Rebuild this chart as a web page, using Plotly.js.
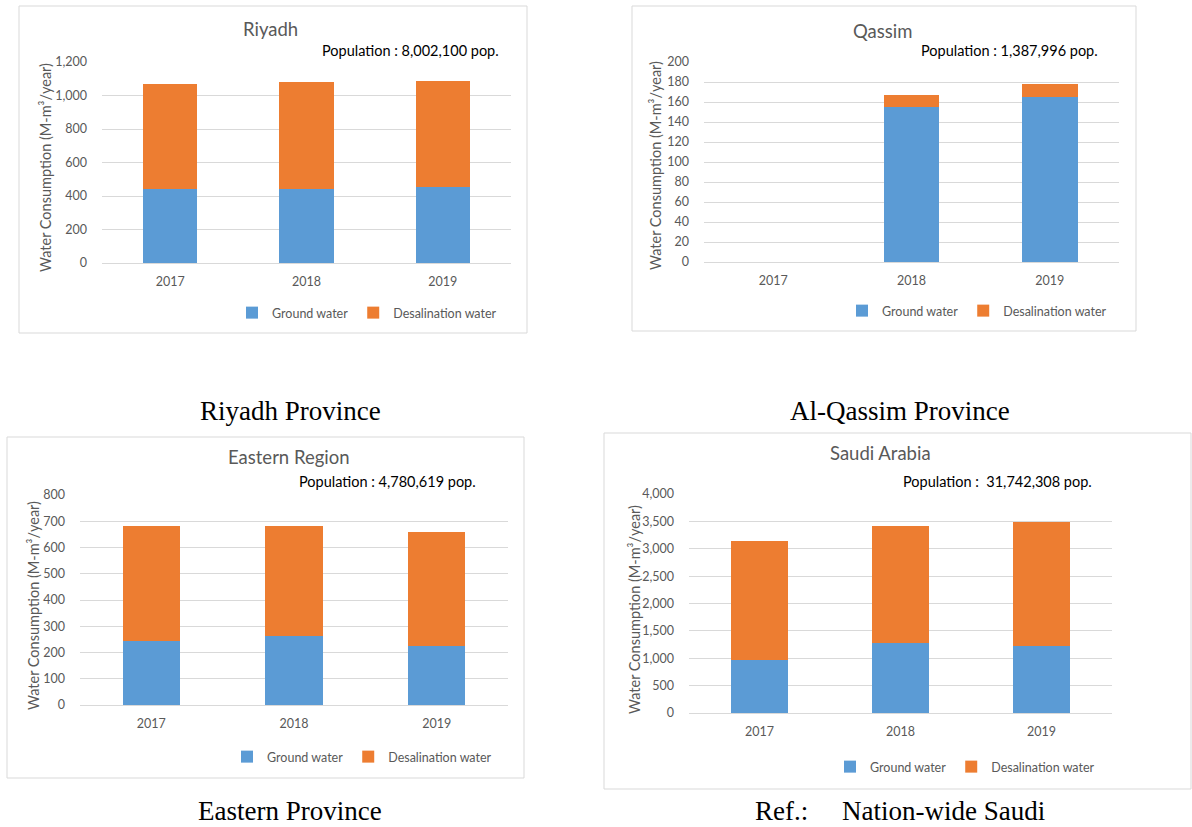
<!DOCTYPE html>
<html>
<head>
<meta charset="utf-8">
<script src="https://cdn.plot.ly/plotly-3.0.1.min.js"></script>
<style>html,body{margin:0;padding:0;background:#fff;}#chart{width:1192px;height:827px;}</style>
</head>
<body>
<div id="chart"></div>
<script>
// ---- data ----
const categories = ['2017', '2018', '2019'];
const seriesNames = ['Ground water', 'Desalination water'];

const riyadhGround = [443, 441, 453];
const riyadhDesal = [626, 638, 636];

const qassimGround = [null, 155, 165];
const qassimDesal = [null, 12, 13];

const easternGround = [245, 264, 225];
const easternDesal = [436, 417, 433];

const saudiGround = [973, 1271, 1228];
const saudiDesal = [2176, 2151, 2261];

const panelTitles = ['Riyadh', 'Qassim', 'Eastern Region', 'Saudi Arabia'];
const populationLabels = [
  'Population : 8,002,100 pop.',
  'Population : 1,387,996 pop.',
  'Population : 4,780,619 pop.',
  'Population :\u00a0 31,742,308 pop.'
];
const captions = ['Riyadh Province', 'Al-Qassim Province', 'Eastern Province',
  'Ref.:\u00a0\u00a0\u00a0\u00a0 Nation-wide Saudi'];
const yAxisTitle = 'Water Consumption (M-m\u00b3/year)';

// ---- styling ----
const W = 1192, H = 827;
const BLUE = '#5B9BD5', ORANGE = '#ED7D31';
const GRAY = '#595959', GRID = '#d9d9d9';
const FONT = 'Lato, "Open Sans", sans-serif';
const px = v => v / W;
const py = v => 1 - v / H;

// panel geometry in pixels
const panels = [
  {ground: riyadhGround, desal: riyadhDesal, px0: 102, px1: 511, top: 62, bot: 263, range: [0, 1200], dtick: 200,
   box: [19, 6, 527, 333], titleX: 270, titleY: 29, popX: 501, popY: 50, axX: 46, axY: 168,
   legX: 367, legY: 313, capX: 290, capY: 411},
  {ground: qassimGround, desal: qassimDesal, px0: 704, px1: 1119, top: 62, bot: 262, range: [0, 200], dtick: 20,
   box: [632, 6, 1136, 331], titleX: 882, titleY: 31, popX: 1100, popY: 50, axX: 656, axY: 166,
   legX: 977, legY: 311, capX: 900, capY: 411},
  {ground: easternGround, desal: easternDesal, px0: 80, px1: 508, top: 495, bot: 705, range: [0, 800], dtick: 100,
   box: [7, 437, 524, 778], titleX: 289, titleY: 457, popX: 478, popY: 482, axX: 33, axY: 606,
   legX: 362, legY: 757, capX: 290, capY: 811},
  {ground: saudiGround, desal: saudiDesal, px0: 689, px1: 1112, top: 494, bot: 713, range: [0, 4000], dtick: 500,
   box: [604, 433, 1191, 789], titleX: 881, titleY: 453, popX: 1094, popY: 481, axX: 634, axY: 610,
   legX: 965, legY: 767, capX: 900, capY: 811}
];

const traces = [];
const layout = {
  width: W, height: H,
  margin: {l: 0, r: 0, t: 0, b: 0},
  paper_bgcolor: '#fff', plot_bgcolor: '#fff',
  barmode: 'stack', bargap: 0.6,
  font: {family: FONT, color: GRAY, size: 12},
  showlegend: true,
  shapes: [], annotations: []
};

panels.forEach((p, i) => {
  const n = i === 0 ? '' : String(i + 1);
  const xa = 'x' + n, ya = 'y' + n;
  const lg = 'legend' + n;
  traces.push({type: 'bar', x: categories, y: p.ground, name: seriesNames[0], xaxis: xa, yaxis: ya,
    legend: lg, marker: {color: BLUE}, hoverinfo: 'x+y+name'});
  traces.push({type: 'bar', x: categories, y: p.desal, name: seriesNames[1], xaxis: xa, yaxis: ya,
    legend: lg, marker: {color: ORANGE}, hoverinfo: 'x+y+name'});

  layout['xaxis' + n] = {
    domain: [px(p.px0), px(p.px1)], anchor: ya, type: 'category',
    showgrid: false, zeroline: false, showline: false, ticks: '',
    tickfont: {family: FONT, size: 12.5, color: GRAY}, ticklabelstandoff: 9, fixedrange: true
  };
  layout['yaxis' + n] = {
    domain: [py(p.bot), py(p.top)], anchor: xa, range: p.range, dtick: p.dtick,
    tickformat: ',d', showgrid: true, gridcolor: GRID, gridwidth: 1,
    zeroline: true, zerolinecolor: GRID, zerolinewidth: 1, showline: false, ticks: '',
    tickfont: {family: FONT, size: 12.5, color: GRAY}, ticklabelstandoff: 14, fixedrange: true
  };
  layout[lg] = {
    orientation: 'h', x: px(p.legX), xanchor: 'center', y: py(p.legY), yanchor: 'middle',
    font: {family: FONT, size: 12.5, color: GRAY}, bgcolor: 'rgba(0,0,0,0)', traceorder: 'normal',
    itemwidth: 30
  };

  layout.shapes.push({type: 'rect', xref: 'paper', yref: 'paper',
    x0: px(p.box[0]), x1: px(p.box[2]), y0: py(p.box[3]), y1: py(p.box[1]),
    line: {color: GRID, width: 1}, fillcolor: 'rgba(0,0,0,0)', layer: 'below'});

  layout.annotations.push({xref: 'paper', yref: 'paper', x: px(p.titleX), y: py(p.titleY),
    xanchor: 'center', yanchor: 'middle', showarrow: false, text: panelTitles[i],
    font: {family: FONT, size: 18.5, color: GRAY}});
  layout.annotations.push({xref: 'paper', yref: 'paper', x: px(p.popX), y: py(p.popY),
    xanchor: 'right', yanchor: 'middle', showarrow: false, text: populationLabels[i],
    font: {family: FONT, size: 14.5, color: '#000'}});
  layout.annotations.push({xref: 'paper', yref: 'paper', x: px(p.axX), y: py(p.axY),
    xanchor: 'center', yanchor: 'middle', showarrow: false, text: yAxisTitle, textangle: -90,
    font: {family: FONT, size: 14.5, color: GRAY}});
  layout.annotations.push({xref: 'paper', yref: 'paper', x: px(p.capX), y: py(p.capY),
    xanchor: 'center', yanchor: 'middle', showarrow: false, text: captions[i],
    font: {family: '"Liberation Serif", "Times New Roman", serif', size: 27, color: '#000'}});
});

Plotly.newPlot('chart', traces, layout, {displayModeBar: false, staticPlot: false});
</script>
</body>
</html>
